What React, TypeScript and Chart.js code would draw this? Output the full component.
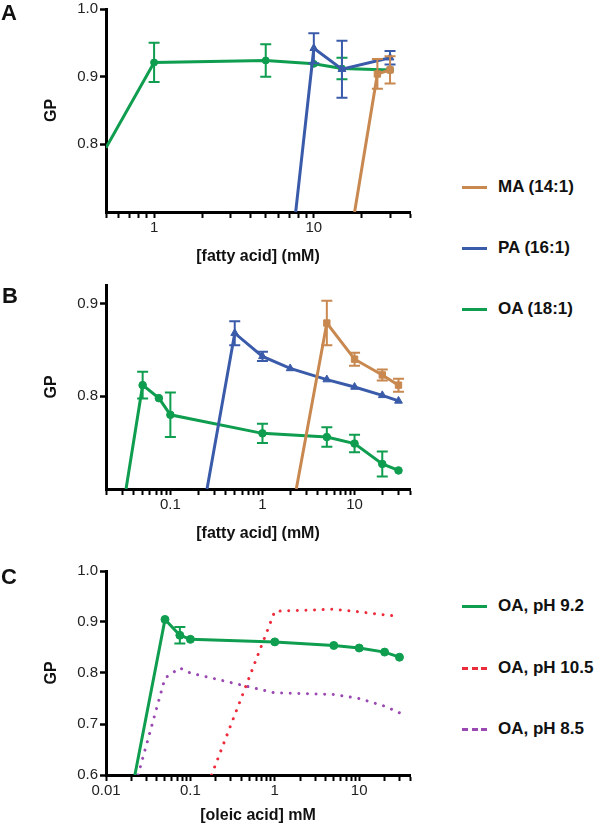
import React, { useEffect, useRef } from 'react';
import { Chart, registerables } from 'chart.js';

Chart.register(...registerables);

const FONT = "'Liberation Sans', Arial, Helvetica, sans-serif";
Chart.defaults.font.family = FONT;

// ---------- colours ----------
const C_MA = '#C8884F';
const C_PA = '#3A5BAA';
const C_OA = '#0F9D4F';
const C_RED = '#EC2B3B';
const C_PURPLE = '#9A48B2';

// ---------- Panel A data ----------
const A_MA_X = [18, 25, 30];
const A_MA_Y = [0.7, 0.904, 0.91];
const A_MA_ERR = [null, 0.022, 0.02];
const A_PA_X = [7.7, 10, 15, 30];
const A_PA_Y = [0.7, 0.942, 0.911, 0.928];
const A_PA_ERR = [null, 0.022, 0.042, 0.01];
const A_OA_X = [0.5, 1, 5, 10, 15, 30];
const A_OA_Y = [0.795, 0.921, 0.924, 0.919, 0.912, 0.91];
const A_OA_ERR = [null, 0.029, 0.024, null, 0.016, null];

// ---------- Panel B data ----------
const B_MA_X = [2.33, 5, 10, 20, 30];
const B_MA_Y = [0.7, 0.879, 0.84, 0.823, 0.812];
const B_MA_ERR = [null, 0.024, 0.007, 0.006, 0.007];
const B_PA_X = [0.25, 0.5, 1, 2, 5, 10, 20, 30];
const B_PA_Y = [0.7, 0.868, 0.843, 0.83, 0.818, 0.81, 0.801, 0.795];
const B_PA_ERR = [null, 0.013, 0.005, null, null, null, null, null];
const B_OA_X = [0.033, 0.05, 0.075, 0.1, 1, 5, 10, 20, 30];
const B_OA_Y = [0.7, 0.812, 0.798, 0.78, 0.76, 0.756, 0.749, 0.727, 0.72];
const B_OA_ERR = [null, 0.0145, null, 0.024, 0.0105, 0.0105, 0.0095, 0.0135, null];

// ---------- Panel C data ----------
const C_92_X = [0.022, 0.05, 0.075, 0.1, 1, 5, 10, 20, 30];
const C_92_Y = [0.6, 0.905, 0.874, 0.866, 0.861, 0.854, 0.849, 0.841, 0.831];
const C_92_ERR = [null, null, 0.016, null, null, null, null, null, null];
const C_105_X = [0.178, 1, 5, 10, 20, 30];
const C_105_Y = [0.6, 0.921, 0.925, 0.92, 0.914, 0.911];
const C_85_X = [0.024, 0.05, 0.075, 0.1, 1, 5, 10, 20, 30];
const C_85_Y = [0.6, 0.79, 0.81, 0.8, 0.761, 0.758, 0.75, 0.735, 0.722];

// ---------- axis ticks / labels ----------
const A_X_LABELS = [1, 10];
const B_X_LABELS = [0.1, 1, 10];
const C_X_LABELS = [0.01, 0.1, 1, 10];
const A_Y_TICKS = [0.8, 0.9, 1.0];
const B_Y_TICKS = [0.8, 0.9];
const C_Y_TICKS = [0.6, 0.7, 0.8, 0.9, 1.0];

const LEGEND_AB = ['MA (14:1)', 'PA (16:1)', 'OA (18:1)'];
const LEGEND_C = ['OA, pH 9.2', 'OA, pH 10.5', 'OA, pH 8.5'];

function logTicks(min: number, max: number): number[] {
  const out: number[] = [];
  for (let e = -3; e <= 2; e++) {
    const d = Math.pow(10, e);
    for (let k = 1; k <= 9; k++) {
      const v = parseFloat((k * d).toPrecision(3));
      if (v >= min - 1e-12 && v <= max + 1e-12) out.push(v);
    }
  }
  return out;
}

const errorBarPlugin = {
  id: 'errorBars',
  afterDatasetDraw(chart: any, args: any) {
    const ds = chart.data.datasets[args.index];
    const errs = ds.errorBars;
    if (!errs) return;
    const ctx = chart.ctx;
    const xs = chart.scales.x;
    const ys = chart.scales.y;
    ctx.save();
    ctx.strokeStyle = ds.borderColor;
    ctx.lineWidth = 2;
    ds.data.forEach((p: any, j: number) => {
      const e = errs[j];
      if (e == null) return;
      const px = xs.getPixelForValue(p.x);
      const t = ys.getPixelForValue(p.y + e);
      const b = ys.getPixelForValue(p.y - e);
      ctx.beginPath();
      ctx.moveTo(px, t);
      ctx.lineTo(px, b);
      ctx.moveTo(px - 5.5, t);
      ctx.lineTo(px + 5.5, t);
      ctx.moveTo(px - 5.5, b);
      ctx.lineTo(px + 5.5, b);
      ctx.stroke();
    });
    ctx.restore();
  },
};

function series(label: string, xs: number[], ys: number[], errs: any, color: string, style: string, radius: number, order: number) {
  return {
    label,
    data: xs.map((x, i) => ({ x, y: ys[i] })),
    errorBars: errs,
    borderColor: color,
    backgroundColor: color,
    borderWidth: 3,
    pointStyle: style,
    pointRadius: xs.map((_, i) => (i === 0 ? 0 : radius)),
    pointBorderWidth: 1,
    pointHoverRadius: 0,
    tension: 0,
    order,
  };
}

function dotted(label: string, xs: number[], ys: number[], color: string, order: number) {
  return {
    label,
    data: xs.map((x, i) => ({ x, y: ys[i] })),
    borderColor: color,
    backgroundColor: color,
    borderWidth: 3,
    borderDash: [0.01, 8.6],
    borderCapStyle: 'round',
    pointRadius: 0,
    pointHoverRadius: 0,
    tension: 0,
    order,
  };
}

function xScale(min: number, max: number, labels: number[], title: string, height: number, titlePad: number) {
  const vals = logTicks(min, max);
  return {
    type: 'logarithmic',
    min,
    max,
    border: { display: true, color: '#000', width: 3 },
    grid: { display: true, drawOnChartArea: false, drawTicks: true, tickLength: 6, tickColor: '#000', tickWidth: 2 },
    ticks: {
      autoSkip: false,
      maxRotation: 0,
      minRotation: 0,
      padding: 1,
      color: '#222',
      font: { size: 15 },
      callback: (v: number) => (labels.indexOf(v) >= 0 ? String(v) : ''),
    },
    afterBuildTicks: (s: any) => {
      s.ticks = vals.map((v) => ({ value: v }));
    },
    afterFit: (s: any) => {
      s.height = height;
      s.paddingLeft = 0;
      s.paddingRight = 0;
    },
    title: {
      display: true,
      text: title,
      color: '#111',
      font: { size: 16, weight: 'bold' },
      padding: { top: 0, bottom: titlePad },
    },
  };
}

function yScale(min: number, max: number, tickVals: number[]) {
  return {
    min,
    max,
    border: { display: true, color: '#000', width: 3 },
    grid: { display: true, drawOnChartArea: false, drawTicks: true, tickLength: 6, tickColor: '#000', tickWidth: 2.5 },
    ticks: {
      padding: 2,
      color: '#222',
      font: { size: 15 },
      callback: (v: number) => v.toFixed(1),
    },
    afterBuildTicks: (s: any) => {
      s.ticks = tickVals.map((v) => ({ value: v }));
    },
    afterFit: (s: any) => {
      s.width = 106;
      s.paddingTop = 0;
      s.paddingBottom = 0;
    },
    title: {
      display: true,
      text: 'GP',
      color: '#111',
      font: { size: 16, weight: 'bold' },
      padding: { top: 42, bottom: 0 },
    },
  };
}

function baseOptions(padTop: number, x: any, y: any) {
  return {
    animation: false,
    responsive: false,
    maintainAspectRatio: false,
    events: [],
    layout: { padding: { left: 0, right: 20, top: padTop, bottom: 0 } },
    plugins: { legend: { display: false }, tooltip: { enabled: false } },
    scales: { x, y },
  };
}

function configA() {
  return {
    type: 'line',
    data: {
      datasets: [
        series('OA (18:1)', A_OA_X, A_OA_Y, A_OA_ERR, C_OA, 'circle', 3.5, 3),
        series('PA (16:1)', A_PA_X, A_PA_Y, A_PA_ERR, C_PA, 'triangle', 4.5, 2),
        series('MA (14:1)', A_MA_X, A_MA_Y, A_MA_ERR, C_MA, 'rect', 4.5, 1),
      ],
    },
    options: baseOptions(9, xScale(0.5, 40, A_X_LABELS, '[fatty acid] (mM)', 58, 3.7), yScale(0.7, 1.0, A_Y_TICKS)),
    plugins: [errorBarPlugin],
  };
}

function configB() {
  return {
    type: 'line',
    data: {
      datasets: [
        series('OA (18:1)', B_OA_X, B_OA_Y, B_OA_ERR, C_OA, 'circle', 3.8, 3),
        series('PA (16:1)', B_PA_X, B_PA_Y, B_PA_ERR, C_PA, 'triangle', 4.5, 2),
        series('MA (14:1)', B_MA_X, B_MA_Y, B_MA_ERR, C_MA, 'rect', 4.5, 1),
      ],
    },
    options: baseOptions(15, xScale(0.02, 40, B_X_LABELS, '[fatty acid] (mM)', 56, 1.4), yScale(0.7, 0.92, B_Y_TICKS)),
    plugins: [errorBarPlugin],
  };
}

function configC() {
  return {
    type: 'line',
    data: {
      datasets: [
        series('OA, pH 9.2', C_92_X, C_92_Y, C_92_ERR, C_OA, 'circle', 4, 1),
        dotted('OA, pH 10.5', C_105_X, C_105_Y, C_RED, 2),
        dotted('OA, pH 8.5', C_85_X, C_85_Y, C_PURPLE, 3),
      ],
    },
    options: baseOptions(21, xScale(0.01, 40, C_X_LABELS, '[oleic acid] mM', 53, 2.7), yScale(0.6, 1.0, C_Y_TICKS)),
    plugins: [errorBarPlugin],
  };
}

function PanelChart({ make, left, top, width, height }: any) {
  const ref = useRef<HTMLCanvasElement>(null);
  useEffect(() => {
    const chart = new Chart(ref.current as HTMLCanvasElement, make());
    return () => chart.destroy();
  }, []);
  return (
    <canvas
      ref={ref}
      width={width}
      height={height}
      style={{ position: 'absolute', left, top, width, height }}
    />
  );
}

function LegendItem({ y, color, label, dashed }: any) {
  return (
    <div
      style={{
        position: 'absolute',
        left: 462,
        top: y - 12,
        height: 24,
        display: 'flex',
        alignItems: 'center',
        whiteSpace: 'nowrap',
      }}
    >
      <div
        style={{
          width: 25,
          height: 3,
          background: dashed
            ? `repeating-linear-gradient(to right, ${color} 0px, ${color} 6px, transparent 6px, transparent 9.5px)`
            : color,
        }}
      />
      <span style={{ marginLeft: 11, fontSize: 17, fontWeight: 'bold', color: '#111', lineHeight: '24px' }}>{label}</span>
    </div>
  );
}

function Letter({ text, left, top }: any) {
  return (
    <div style={{ position: 'absolute', left, top, fontSize: 22, fontWeight: 'bold', lineHeight: '22px', color: '#111' }}>
      {text}
    </div>
  );
}

export default function App() {
  return (
    <div
      style={{
        position: 'fixed',
        left: 0,
        top: 0,
        width: 602,
        height: 828,
        background: '#fff',
        fontFamily: FONT,
        overflow: 'hidden',
      }}
    >
      <PanelChart make={configA} left={0} top={0} width={430} height={270} />
      <PanelChart make={configB} left={0} top={270} width={430} height={275} />
      <PanelChart make={configC} left={0} top={550} width={430} height={278} />
      <Letter text="A" left={1} top={2} />
      <Letter text="B" left={2} top={285} />
      <Letter text="C" left={1} top={566} />
      <LegendItem y={187} color={C_MA} label={LEGEND_AB[0]} />
      <LegendItem y={248} color={C_PA} label={LEGEND_AB[1]} />
      <LegendItem y={309} color={C_OA} label={LEGEND_AB[2]} />
      <LegendItem y={606} color={C_OA} label={LEGEND_C[0]} />
      <LegendItem y={668} color={C_RED} label={LEGEND_C[1]} dashed />
      <LegendItem y={729} color={C_PURPLE} label={LEGEND_C[2]} dashed />
    </div>
  );
}
